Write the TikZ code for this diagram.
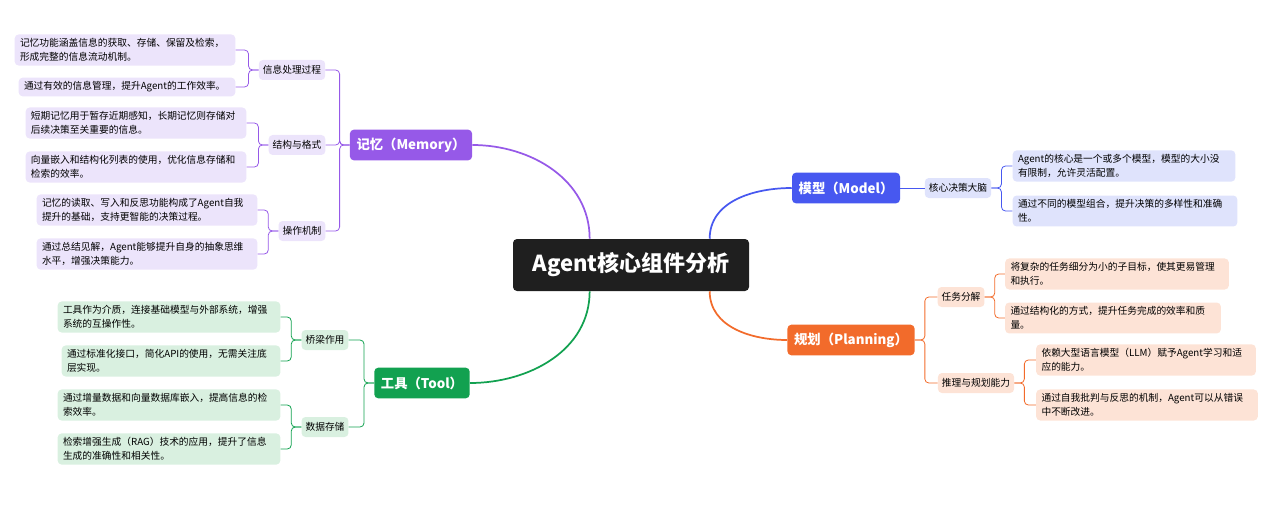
\documentclass[tikz,border=0pt]{standalone}
\usepackage{fontspec}
\setmainfont{Noto Sans CJK SC}
\definecolor{memc}{HTML}{9659E8}
\definecolor{memf}{HTML}{ECE4FB}
\definecolor{modc}{HTML}{4758F0}
\definecolor{modf}{HTML}{DFE3FC}
\definecolor{plac}{HTML}{F26B2B}
\definecolor{plaf}{HTML}{FDE3D6}
\definecolor{tooc}{HTML}{12A150}
\definecolor{toof}{HTML}{D9F0E0}
\definecolor{rootc}{HTML}{1F1F1F}
\tikzset{
  root/.style={fill=rootc, text=white, rounded corners=3pt, minimum width=177pt, minimum height=39pt, font=\fontsize{16.5}{18}\selectfont\bfseries},
  mainbox/.style={fill=#1, text=white, rounded corners=3pt, minimum height=23pt, inner xsep=5pt, font=\fontsize{10}{12}\selectfont\bfseries},
  subbox/.style={fill=#1, rounded corners=3pt, minimum height=15pt, inner xsep=3pt, font=\fontsize{7.3}{9}\selectfont},
  leaf/.style={fill=#1, rounded corners=3pt, align=left, inner xsep=4pt, inner ysep=3pt, font=\fontsize{7.3}{10.5}\selectfont},
  bus/.style={draw=#1, line width=0.6pt, rounded corners=3pt},
  trunk/.style={draw=#1, line width=1.3pt}
}
\begin{document}
\begin{tikzpicture}[x=0.75pt, y=0.75pt]
  \useasboundingbox (0,0) rectangle (1280,-531);
  % centre and branches
  \node[root] (c) at (631,-265) {Agent核心组件分析};
  \node[mainbox=memc] (mem) at (411,-145) {记忆（Memory）};
  \node[mainbox=modc] (mod) at (846,-188) {模型（Model）};
  \node[mainbox=plac] (pla) at (851,-340) {规划（Planning）};
  \node[mainbox=tooc] (too) at (422,-383) {工具（Tool）};
  \draw[trunk=memc] ([xshift=-31pt]c.north) to[out=90,in=0] (mem.east);
  \draw[trunk=modc] ([xshift=59pt]c.north) to[out=90,in=180] (mod.west);
  \draw[trunk=plac] ([xshift=59pt]c.south) to[out=-90,in=180] (pla.west);
  \draw[trunk=tooc] ([xshift=-31pt]c.south) to[out=-90,in=0] (too.east);

  % memory
  \node[subbox=memf] (m1) at (292,-70) {信息处理过程};
  \node[subbox=memf] (m2) at (297,-145) {结构与格式};
  \node[subbox=memf] (m3) at (302,-231) {操作机制};
  \node[leaf=memf, text width=210pt*0.75] (m11) at (125,-50) {记忆功能涵盖信息的获取、存储、保留及检索，\\形成完整的信息流动机制。};
  \node[leaf=memf, text width=206pt*0.75] (m12) at (127,-87) {通过有效的信息管理，提升Agent的工作效率。};
  \node[leaf=memf, text width=210pt*0.75] (m21) at (136,-123) {短期记忆用于暂存近期感知，长期记忆则存储对\\后续决策至关重要的信息。};
  \node[leaf=memf, text width=210pt*0.75] (m22) at (136,-167) {向量嵌入和结构化列表的使用，优化信息存储和\\检索的效率。};
  \node[leaf=memf, text width=210pt*0.75] (m31) at (147,-210) {记忆的读取、写入和反思功能构成了Agent自我\\提升的基础，支持更智能的决策过程。};
  \node[leaf=memf, text width=210pt*0.75] (m32) at (147,-254) {通过总结见解，Agent能够提升自身的抽象思维\\水平，增强决策能力。};
  \foreach \s in {m1,m2,m3} \draw[bus=memc] (mem.west) -- ++(-10,0) |- (\s.east);
  \foreach \s/\l in {m1/m11,m1/m12,m2/m21,m2/m22,m3/m31,m3/m32} \draw[bus=memc] (\s.west) -- ++(-10,0) |- (\l.east);

  % model
  \node[subbox=modf] (d1) at (958,-188) {核心决策大脑};
  \node[leaf=modf, text width=212pt*0.75] (d11) at (1124,-166) {Agent的核心是一个或多个模型，模型的大小没\\有限制，允许灵活配置。};
  \node[leaf=modf, text width=214pt*0.75] (d12) at (1125,-211) {通过不同的模型组合，提升决策的多样性和准确\\性。};
  \draw[bus=modc] (mod.east) -- (d1.west);
  \foreach \l in {d11,d12} \draw[bus=modc] (d1.east) -- ++(10,0) |- (\l.west);

  % planning
  \node[subbox=plaf] (p1) at (961,-297) {任务分解};
  \node[subbox=plaf] (p2) at (976,-383) {推理与规划能力};
  \node[leaf=plaf, text width=213pt*0.75] (p11) at (1117,-274) {将复杂的任务细分为小的子目标，使其更易管理\\和执行。};
  \node[leaf=plaf, text width=205pt*0.75] (p12) at (1113,-318) {通过结构化的方式，提升任务完成的效率和质\\量。};
  \node[leaf=plaf, text width=209pt*0.75] (p21) at (1146,-360) {依赖大型语言模型（LLM）赋予Agent学习和适\\应的能力。};
  \node[leaf=plaf, text width=211pt*0.75] (p22) at (1147,-405) {通过自我批判与反思的机制，Agent可以从错误\\中不断改进。};
  \foreach \s in {p1,p2} \draw[bus=plac] (pla.east) -- ++(10,0) |- (\s.west);
  \foreach \s/\l in {p1/p11,p1/p12,p2/p21,p2/p22} \draw[bus=plac] (\s.east) -- ++(10,0) |- (\l.west);

  % tool
  \node[subbox=toof] (t1) at (325,-340) {桥梁作用};
  \node[subbox=toof] (t2) at (325,-427) {数据存储};
  \node[leaf=toof, text width=212pt*0.75] (t11) at (169,-317) {工具作为介质，连接基础模型与外部系统，增强\\系统的互操作性。};
  \node[leaf=toof, text width=208pt*0.75] (t12) at (171,-361) {通过标准化接口，简化API的使用，无需关注底\\层实现。};
  \node[leaf=toof, text width=212pt*0.75] (t21) at (169,-405) {通过增量数据和向量数据库嵌入，提高信息的检\\索效率。};
  \node[leaf=toof, text width=212pt*0.75] (t22) at (169,-449) {检索增强生成（RAG）技术的应用，提升了信息\\生成的准确性和相关性。};
  \foreach \s in {t1,t2} \draw[bus=tooc] (too.west) -- ++(-10,0) |- (\s.east);
  \foreach \s/\l in {t1/t11,t1/t12,t2/t21,t2/t22} \draw[bus=tooc] (\s.west) -- ++(-10,0) |- (\l.east);
\end{tikzpicture}
\end{document}
